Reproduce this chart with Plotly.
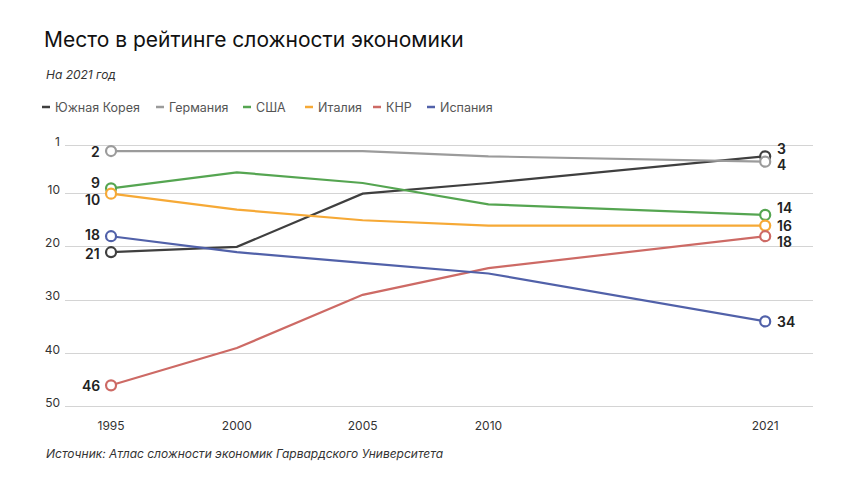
import plotly.graph_objects as go

years = [1995, 2000, 2005, 2010, 2021]
series_names = ["Южная Корея", "Германия", "США", "Италия", "КНР", "Испания"]
korea = [21, 20, 10, 8, 3]
germany = [2, 2, 2, 3, 4]
usa = [9, 6, 8, 12, 14]
italy = [10, 13, 15, 16, 16]
china = [46, 39, 29, 24, 18]
spain = [18, 21, 23, 25, 34]
y_ticks = [1, 10, 20, 30, 40, 50]
x_ticks = [1995, 2000, 2005, 2010, 2021]

title = "Место в рейтинге сложности экономики"
subtitle = "На 2021 год"
source = "Источник: Атлас сложности экономик Гарвардского Университета"

colors = ["#3f3f3f", "#9b9b9b", "#55a551", "#f6a936", "#cd6a65", "#5161a9"]
values = [korea, germany, usa, italy, china, spain]

# label nudges (pixels) for start / end labels to avoid overlaps
start_shift = [-1, 0, 6, -6, 0, 2]
end_shift = [8, -3, 7, 0, -5, 0]

W, H = 860, 484
OFF = 8  # page body margin
L, R, T, B = 65 - OFF, 813 - OFF, 144 - OFF, 408 - OFF
def px(x):
    return (x - OFF - L) / (R - L)
def py(y):
    return (B - (y - OFF)) / (B - T)

FONT = "Inter, Lato, sans-serif"
fig = go.Figure()
for name, vals, col in zip(series_names, values, colors):
    fig.add_trace(go.Scatter(
        x=years, y=vals, mode="lines", name=name,
        line=dict(color=col, width=2.2), showlegend=False, hoverinfo="skip"))
    fig.add_trace(go.Scatter(
        x=[years[0], years[-1]], y=[vals[0], vals[-1]], mode="markers",
        marker=dict(size=10, color="white", line=dict(color=col, width=2.2)),
        showlegend=False, hoverinfo="skip"))

annotations = []
for i, (vals, col) in enumerate(zip(values, colors)):
    annotations.append(dict(x=years[0], y=vals[0], xref="x", yref="y", text=str(vals[0]),
                            showarrow=False, xanchor="right", yanchor="middle",
                            xshift=-9, yshift=start_shift[i],
                            font=dict(family=FONT, size=14, color="#222", weight=600)))
    annotations.append(dict(x=years[-1], y=vals[-1], xref="x", yref="y", text=str(vals[-1]),
                            showarrow=False, xanchor="left", yanchor="middle",
                            xshift=10, yshift=end_shift[i],
                            font=dict(family=FONT, size=14, color="#222", weight=600)))

# legend built from series names and colours
legend_x = [42, 156, 243, 305, 373, 427]
legend_y = 107
shapes = []
for name, col, lx in zip(series_names, colors, legend_x):
    shapes.append(dict(type="line", xref="paper", yref="paper",
                       x0=px(lx), x1=px(lx + 8), y0=py(legend_y), y1=py(legend_y),
                       line=dict(color=col, width=2.5)))
    annotations.append(dict(x=px(lx + 11), y=py(legend_y), xref="paper", yref="paper",
                            text=name, showarrow=False, xanchor="left", yanchor="middle",
                            font=dict(family=FONT, size=12.5, color="#555")))

annotations.append(dict(x=px(44), y=py(75), xref="paper", yref="paper", text="<i>" + subtitle + "</i>",
                        showarrow=False, xanchor="left", yanchor="middle",
                        font=dict(family=FONT, size=12, color="#333")))
annotations.append(dict(x=px(44), y=py(453), xref="paper", yref="paper", text="<i>" + source + "</i>",
                        showarrow=False, xanchor="left", yanchor="middle",
                        font=dict(family=FONT, size=12, color="#333")))

fig.update_layout(
    width=W, height=H,
    margin=dict(l=L, r=W - R, t=T, b=H - B),
    paper_bgcolor="white", plot_bgcolor="white",
    title=dict(text=title, x=(44 - OFF) / W, xanchor="left", xref="container",
               y=1 - (40 - OFF) / H, yanchor="middle", yref="container",
               font=dict(family=FONT, size=21, color="#111", weight=400)),
    annotations=annotations, shapes=shapes,
    xaxis=dict(range=[1993.17, 2022.9], tickvals=x_ticks, ticktext=[str(t) for t in x_ticks],
               showgrid=False, zeroline=False, showline=False, ticks="",
               ticklabelstandoff=9,
               tickfont=dict(family=FONT, size=12, color="#333")),
    yaxis=dict(range=[50.26, 0.68], tickvals=y_ticks, ticktext=[str(t) for t in y_ticks],
               showgrid=True, gridcolor="#d4d4d4", gridwidth=1, zeroline=False,
               showline=False, ticks="", ticklabelstandoff=4, ticklabelshift=4,
               tickfont=dict(family=FONT, size=12, color="#333")),
)

fig.write_html("out.html")
